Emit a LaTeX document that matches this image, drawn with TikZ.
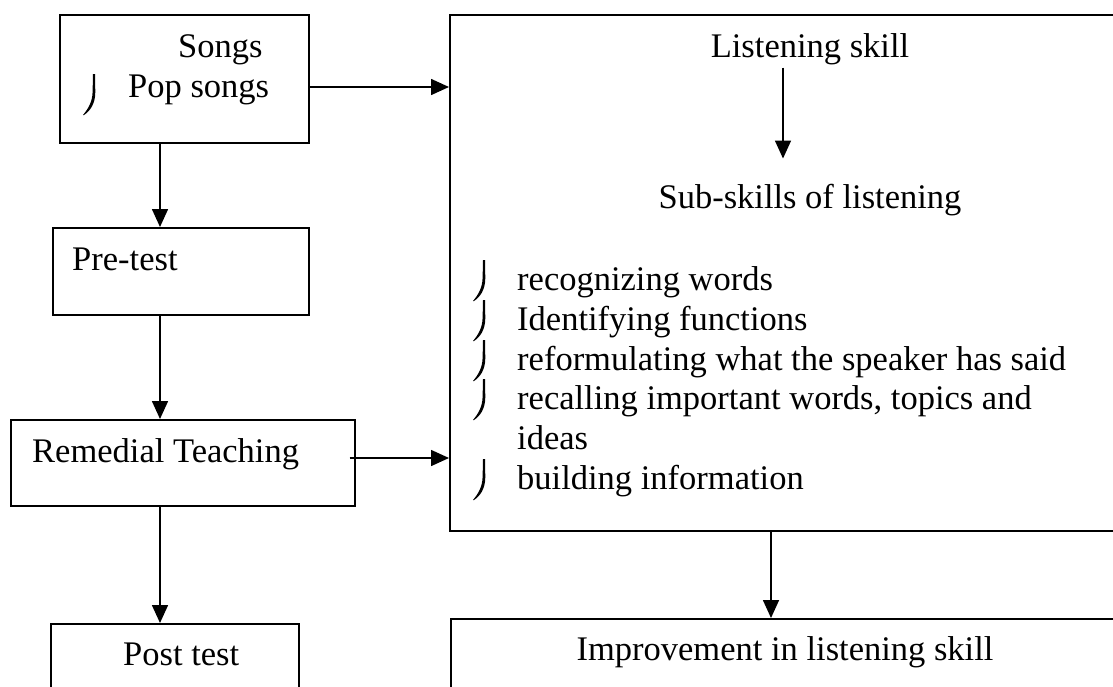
\documentclass[tikz,border=0pt]{standalone}
\usepackage{fontspec}
\setmainfont{Liberation Serif}
\usetikzlibrary{arrows.meta}
\begin{document}
\begin{tikzpicture}[x=1pt,y=-1pt,
  box/.style={draw, line width=1.6pt, inner sep=0pt, anchor=north west},
  txt/.style={font=\fontsize{34.5}{39.7}\selectfont, inner sep=0pt},
  arr/.style={-{Triangle[length=18pt,width=16pt]}, line width=1.6pt},
  bulletmark/.pic={\fill (-1,0) -- (1,0) -- (1.3,18) .. controls (1.3,30) and (-4,37) .. (-10,41) -- (-11,41) .. controls (-6,35) and (-1.6,28) .. (-1.4,18) -- cycle;}
]
\useasboundingbox (0,0) rectangle (1113,686);
\clip (0,0) rectangle (1113,686);

% boxes
\node[box, minimum width=249pt, minimum height=128pt] (songs) at (59,14) {};
\node[box, minimum width=256pt, minimum height=87pt] (pre) at (52,227) {};
\node[box, minimum width=344pt, minimum height=86pt] (rem) at (10,419) {};
\node[box, minimum width=248pt, minimum height=120pt] (post) at (50,623) {};
\node[box, minimum width=720pt, minimum height=516pt] (lis) at (449,14) {};
\node[box, minimum width=720pt, minimum height=120pt] (imp) at (450,618) {};

% texts
\node[txt, anchor=base west] (tsongs) at (178,57) {Songs};
\pic at (94,74) {bulletmark};
\node[txt, anchor=base west] (tpop) at (128,97) {Pop songs};
\node[txt, anchor=base west] (tpre) at (72,270) {Pre-test};
\node[txt, anchor=base west] (trem) at (32,462) {Remedial Teaching};
\node[txt, anchor=base west] (tpost) at (123,665) {Post test};
\node[txt, anchor=base] (tlis) at (810,57) {Listening skill};
\node[txt, anchor=base] (tsub) at (810,208) {Sub-skills of listening};
\pic at (484,260) {bulletmark};
\node[txt, anchor=base west] (l1) at (517,290) {recognizing words};
\pic at (484,300) {bulletmark};
\node[txt, anchor=base west] (l2) at (517,330) {Identifying functions};
\pic at (484,340) {bulletmark};
\node[txt, anchor=base west] (l3) at (517,370) {reformulating what the speaker has said};
\pic at (484,379) {bulletmark};
\node[txt, anchor=base west] (l4) at (517,409) {recalling important words, topics and};
\node[txt, anchor=base west] (l5) at (517,449) {ideas};
\pic at (484,459) {bulletmark};
\node[txt, anchor=base west] (l6) at (517,489) {building information};
\node[txt, anchor=base] (timp) at (785,660) {Improvement in listening skill};

% helper coordinates
\coordinate (colL) at (160,0);
\coordinate (rowA) at (0,87);
\coordinate (rowB) at (0,458);
\coordinate (colM) at (783,0);
\coordinate (colN) at (771,0);
\path ([xshift=-6pt]rem.east) coordinate (remx);

% connectors
\draw[arr] (colL |- songs.south) -- (colL |- pre.north);
\draw[arr] (colL |- pre.south) -- (colL |- rem.north);
\draw[arr] (colL |- rem.south) -- (colL |- post.north);
\draw[arr] (songs.east |- rowA) -- (lis.west |- rowA);
\draw[arr] (remx |- rowB) -- (lis.west |- rowB);
\draw[arr, shorten <=3pt, shorten >=25pt] (colM |- tlis.south) -- (colM |- tsub.north);
\draw[arr] (colN |- lis.south) -- (colN |- imp.north);
\end{tikzpicture}
\end{document}
